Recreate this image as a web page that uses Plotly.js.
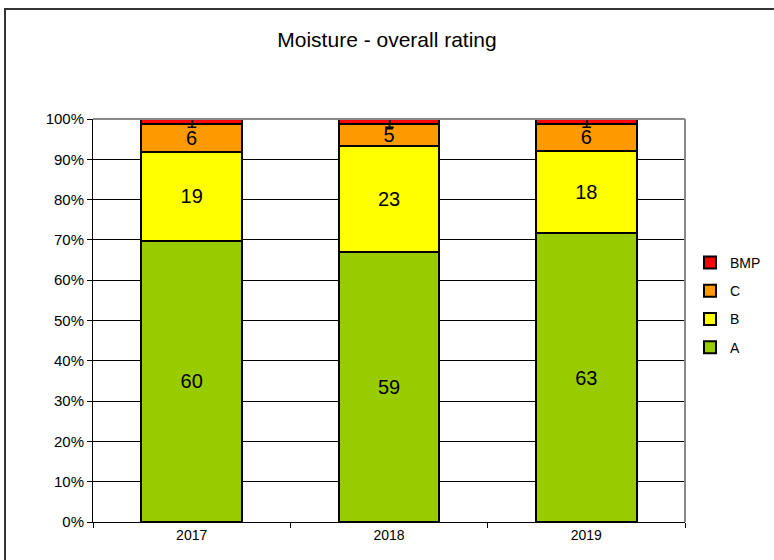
<!DOCTYPE html>
<html>
<head>
<meta charset="utf-8">
<script src="https://cdn.plot.ly/plotly-3.0.1.min.js"></script>
<style>
  html, body { margin: 0; padding: 0; background: #fff; }
  #chart { width: 774px; height: 560px; }
</style>
</head>
<body>
<div id="chart"></div>
<script>
const years = ['2017', '2018', '2019'];
const ratingA = [60, 59, 63];
const ratingB = [19, 23, 18];
const ratingC = [6, 5, 6];
const ratingBMP = [1, 1, 1];

const seriesNames = ['A', 'B', 'C', 'BMP'];
const seriesColors = ['#99CC00', '#FFFF00', '#FF9900', '#FF0000'];
const seriesValues = [ratingA, ratingB, ratingC, ratingBMP];

const traces = seriesValues.map(function (vals, i) {
    return {
        type: 'bar',
        name: seriesNames[i],
        legendgroup: seriesNames[i],
        legendrank: 1000 - i,
        x: years,
        y: vals,
        text: vals.map(String),
        textposition: 'inside',
        insidetextanchor: 'middle',
        textangle: 0,
        constraintext: 'none',
        textfont: { family: 'Arial, Liberation Sans, sans-serif', size: 20, color: '#000' },
        marker: { color: seriesColors[i], line: { color: '#000', width: 2 } },
        hoverinfo: 'skip'
    };
});

// plot area in pixels: x 93..685, y 119..522
const plotL = 93, plotR = 685, plotT = 119, plotB = 522;
const pw = plotR - plotL, ph = plotB - plotT;

const layout = {
    width: 774,
    height: 560,
    margin: { l: plotL, r: 774 - plotR, t: plotT, b: 560 - plotB, autoexpand: false },
    paper_bgcolor: '#fff',
    plot_bgcolor: '#fff',
    barmode: 'stack',
    barnorm: 'percent',
    bargap: 0.49,
    font: { family: 'Arial, Liberation Sans, sans-serif', color: '#000' },
    title: {
        text: 'Moisture - overall rating',
        font: { size: 21, color: '#000' },
        x: 0.5,
        xanchor: 'center',
        y: 1 - 40 / 560,
        yanchor: 'middle'
    },
    xaxis: {
        type: 'category',
        showgrid: false,
        showline: true,
        linecolor: '#000',
        linewidth: 1,
        ticks: 'outside',
        tickson: 'boundaries',
        ticklen: 5,
        tickcolor: '#000',
        tickfont: { size: 14 },
        automargin: false,
        fixedrange: true
    },
    yaxis: {
        range: [0, 100],
        dtick: 10,
        ticksuffix: '%',
        showgrid: true,
        gridcolor: '#000',
        gridwidth: 1,
        showline: true,
        linecolor: '#000',
        linewidth: 1,
        ticks: 'outside',
        ticklen: 5,
        tickcolor: '#000',
        tickfont: { size: 15 },
        zeroline: false,
        automargin: false,
        fixedrange: true
    },
    legend: {
        x: 1 + (690 - plotR) / pw,
        xanchor: 'left',
        y: (plotB - 247) / ph,
        yanchor: 'top',
        font: { size: 14 },
        itemwidth: 30,
        traceorder: 'grouped',
        tracegroupgap: 7
    },
    shapes: [
        // grey plot border on top and right
        { type: 'line', xref: 'paper', yref: 'paper', x0: 0, x1: 1, y0: 1, y1: 1,
          line: { color: '#888', width: 2 } },
        { type: 'line', xref: 'paper', yref: 'paper', x0: 1, x1: 1, y0: 0, y1: 1,
          line: { color: '#888', width: 2 } },
        // outer chart frame
        { type: 'rect', xref: 'paper', yref: 'paper', layer: 'below',
          x0: (5 - plotL) / pw, x1: (800 - plotL) / pw,
          y0: (plotB - 600) / ph, y1: (plotB - 9) / ph,
          line: { color: '#333', width: 2 }, fillcolor: 'rgba(0,0,0,0)' }
    ]
};

Plotly.newPlot('chart', traces, layout, { displayModeBar: false, staticPlot: true });
</script>
</body>
</html>
